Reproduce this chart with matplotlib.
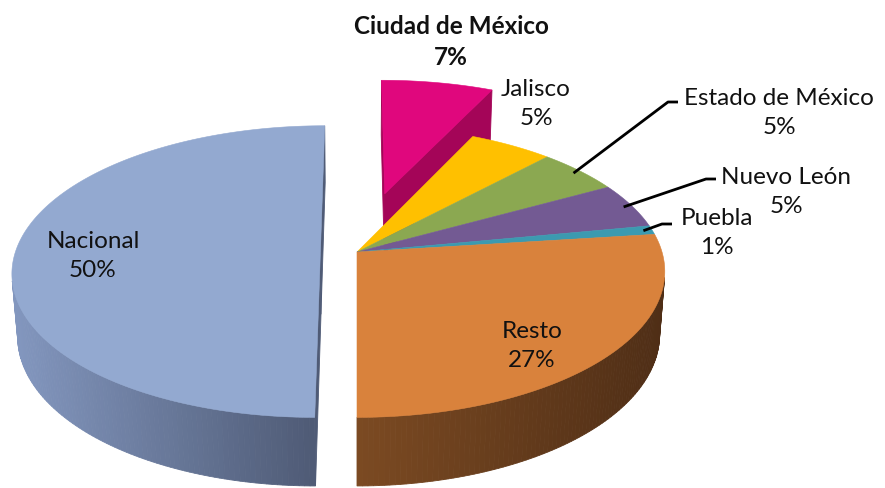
import numpy as np
import matplotlib.pyplot as plt
from matplotlib.patches import Polygon
from matplotlib.colors import to_rgb

# slices, clockwise from the back of the pie
names = ['Ciudad de México', 'Jalisco', 'Estado de México', 'Nuevo León', 'Puebla', 'Resto', 'Nacional']
shares = [7, 5, 5, 5, 1, 27, 50]
explode = [0.44, 0, 0, 0, 0, 0, 0.12]

top_cols = ['#E0077D', '#FFC000', '#8BA851', '#735A93', '#3C9AB0', '#D9823C', '#93A9D0']
side_light = ['#B0065F', '#C99700', '#6E8640', '#5A4674', '#2F7A8B', '#7B4A22', '#8397BF']
side_dark = ['#A40558', '#B08400', '#5E7336', '#4C3B63', '#286877', '#4F2E16', '#4F5B76']

# label layout: text centre and the elbow of the leader line (None = inside)
label_xy = [(451, 42), (536, 104), (779, 113), (786, 192), (717, 233), (532, 346), (93, 256)]
elbow_xy = [None, None, (668, 103), (706, 180), (662, 225), None, None]
bold = [True, False, False, False, False, False, False]

# camera for the 3d look
phi = np.radians(28)
dist = 6.58
focal = 2007.
cx, cy = 357, 253
depth = 0.235
cam = np.array([0, -dist * np.cos(phi), dist * np.sin(phi)])


def proj(p):
    x, y, z = p
    v = y * np.sin(phi) + z * np.cos(phi)
    w = y * np.cos(phi) - z * np.sin(phi)
    s = focal / (dist + w)
    return cx + s * x, cy - s * v


def mix(c1, c2, a):
    c1, c2 = np.array(to_rgb(c1)), np.array(to_rgb(c2))
    return tuple(c1 * (1 - a) + c2 * a)


fig = plt.figure(figsize=(8.85, 4.89), dpi=100)
ax = fig.add_axes([0, 0, 1, 1])
ax.set_xlim(0, 885)
ax.set_ylim(489, 0)
ax.axis('off')

sides = []
tops = []
anchors = []
n = len(shares)
cum = 0
for i in range(n):
    t0 = 2 * np.pi * cum / 100
    t1 = 2 * np.pi * (cum + shares[i]) / 100
    cum += shares[i]
    tm = (t0 + t1) / 2
    sx, sy = explode[i] * np.sin(tm), explode[i] * np.cos(tm)
    ts = np.linspace(t0, t1, max(3, shares[i] * 4))
    apex_t = np.array([sx, sy, 0])
    apex_b = np.array([sx, sy, -depth])
    rim_t = [np.array([sx + np.sin(t), sy + np.cos(t), 0]) for t in ts]
    rim_b = [p + np.array([0, 0, -depth]) for p in rim_t]
    anchors.append(proj((sx + 0.97 * np.sin(tm), sy + 0.97 * np.cos(tm), 0)))

    # top face
    pts = [proj(apex_t)] + [proj(p) for p in rim_t]
    cen = np.mean([apex_t] + rim_t, axis=0)
    tops.append((np.linalg.norm(cam - cen), pts, top_cols[i]))

    # outer wall, only the strips that face the camera
    strips = []
    for k in range(len(ts) - 1):
        tc = (ts[k] + ts[k + 1]) / 2
        nrm = np.array([np.sin(tc), np.cos(tc), 0])
        c = (rim_t[k] + rim_t[k + 1] + rim_b[k] + rim_b[k + 1]) / 4
        if np.dot(cam - c, nrm) > 0:
            q = [proj(rim_t[k]), proj(rim_t[k + 1]), proj(rim_b[k + 1]), proj(rim_b[k])]
            strips.append((np.linalg.norm(cam - c), q))
    if strips:
        xs = [np.mean([p[0] for p in q]) for _, q in strips]
        lo, hi = min(xs), max(xs)
        for (d, q), xm in zip(strips, xs):
            a = 0 if hi == lo else (xm - lo) / (hi - lo)
            sides.append((d, q, mix(side_light[i], side_dark[i], a)))

    # cut faces, only next to an exploded slice
    faces = []
    if explode[i] > 0 or explode[i - 1] > 0:
        faces.append((rim_t[0], rim_b[0], np.array([-np.cos(t0), np.sin(t0), 0])))
    if explode[i] > 0 or explode[(i + 1) % n] > 0:
        faces.append((rim_t[-1], rim_b[-1], np.array([np.cos(t1), -np.sin(t1), 0])))
    for pt, pb, nrm in faces:
        c = (apex_t + apex_b + pt + pb) / 4
        if np.dot(cam - c, nrm) > 1e-6:
            q = [proj(apex_t), proj(pt), proj(pb), proj(apex_b)]
            sides.append((np.linalg.norm(cam - c), q, side_dark[i]))

for d, q, col in sorted(sides, key=lambda s: -s[0]):
    ax.add_patch(Polygon(q, closed=True, facecolor=col, edgecolor=col, lw=0.6))
for d, q, col in sorted(tops, key=lambda s: -s[0]):
    ax.add_patch(Polygon(q, closed=True, facecolor=col, edgecolor=col, lw=0.4))

# labels
for i in range(n):
    lx, ly = label_xy[i]
    txt = names[i] + '\n' + str(shares[i]) + '%'
    ax.text(lx, ly, txt, ha='center', va='center', fontsize=17.5,
            family='Lato', fontweight='bold' if bold[i] else 'normal',
            color='#111111', linespacing=1.43)
    if elbow_xy[i] is not None:
        ex, ey = elbow_xy[i]
        ax.plot([anchors[i][0], ex, ex + 10], [anchors[i][1], ey, ey],
                color='black', lw=2, solid_capstyle='butt')

fig.savefig('out.png', dpi=100)
